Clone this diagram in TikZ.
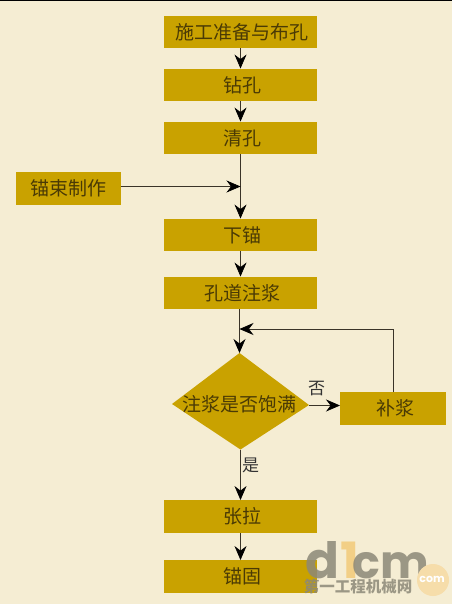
\documentclass[tikz,border=0pt]{standalone}
\usepackage{fontspec}
\setmainfont{Noto Sans CJK SC}[Scale=1]
\newfontfamily\logofont{Poppins}
\usetikzlibrary{arrows.meta}
\definecolor{bgc}{HTML}{F5EDD3}
\definecolor{boxc}{HTML}{C9A200}
\definecolor{txtc}{HTML}{4A3A05}
\definecolor{linec}{HTML}{3A3428}
\definecolor{logogray}{HTML}{8C8878}
\definecolor{logoone}{HTML}{F2CC7E}
\definecolor{logoball}{HTML}{F6DDAA}
\tikzset{
  lbl/.style={font=\fontsize{19}{19}\selectfont,text=txtc,inner sep=0pt,text height=16pt,text depth=1.6pt},
  stepbox/.style={fill=boxc,draw=none,minimum width=153pt,minimum height=32.5pt,lbl,execute at begin node=\hspace{3pt}},
  sidebox/.style={fill=boxc,draw=none,minimum width=105pt,minimum height=33pt,lbl},
  link/.style={draw=linec,line width=0.7pt,-{Stealth[length=14pt,width=12pt,color=black]}},
  plain/.style={draw=linec,line width=0.7pt},
  edgetxt/.style={font=\fontsize{17}{17}\selectfont,text=black!80,inner sep=0pt},
  logoltr/.style={inner sep=0pt,anchor=base,font=\logofont\bfseries\fontsize{50}{50}\selectfont},
}
\begin{document}
\begin{tikzpicture}[x=1pt,y=-1pt]
\useasboundingbox (0,0) rectangle (452,604);
\fill[bgc] (0,0) rectangle (452,604);
\fill[black] (0,0) rectangle (452,1);

\node[stepbox] (a) at (240.5,32) {施工准备与布孔};
\node[stepbox] (b) at (240.5,85) {钻孔};
\node[stepbox] (c) at (240.5,138) {清孔};
\node[sidebox] (s) at (68,188.5) {锚束制作};
\node[stepbox] (d) at (240.5,235) {下锚};
\node[stepbox] (e) at (240.5,293) {孔道注浆};
\coordinate (ftop) at (239.5,353);
\coordinate (fright) at (309,405);
\coordinate (fbot) at (240.5,449.5);
\coordinate (fleft) at (172,404);
\fill[boxc] (ftop) -- (fright) -- (fbot) -- (fleft) -- cycle;
\node[lbl] (f) at (239.5,404) {注浆是否饱满};
\node[sidebox,minimum width=106pt,execute at begin node=\hspace{5pt}] (g) at (393,408.5) {补浆};
\node[stepbox] (h) at (240.5,516.5) {张拉};
\node[stepbox] (i) at (240.5,576.5) {锚固};

\coordinate (j1) at (240.5,186.5);
\coordinate (j2) at (239.5,329);
\coordinate (g1) at (393,329);
\coordinate (eout) at (239.5,309);
\coordinate (gin) at (340,405.5);

\draw[link] (a.south) -- (b.north);
\draw[link] (b.south) -- (c.north);
\draw[link] (c.south) -- (d.north);
\draw[link] (s.east |- j1) -- (j1);
\draw[link] (d.south) -- (e.north);
\draw[link] (eout) -- (ftop);
\draw[plain] (g.north) -- (g1);
\draw[link] (g1) -- (j2);
\draw[link] (fright |- gin) -- (gin);
\draw[link] (fbot) -- (h.north);
\draw[link] (h.south) -- (i.north);

\node[edgetxt] (no) at (316.5,389) {否};
\node[edgetxt] (yes) at (250.5,465) {是};

% watermark
\node[logoltr,opacity=.85,text=logogray] (w1) at (322.5,578) {d};
\node[logoltr,opacity=.9,text=logoone] (w2) at (350,578) {1};
\node[logoltr,opacity=.85,text=logogray,font=\logofont\bfseries\fontsize{46}{46}\selectfont] (w3) at (390.5,578) {cm};
\fill[logoball] (433,580) circle (16);
\node[inner sep=0pt,text=white,font=\logofont\bfseries\fontsize{11}{11}\selectfont] (wc) at (432,579) {com};
\node[inner sep=0pt,opacity=.85,font=\bfseries\fontsize{15.5}{15.5}\selectfont,text=logogray] (w4) at (358,587) {第一工程机械网};
\end{tikzpicture}
\end{document}
